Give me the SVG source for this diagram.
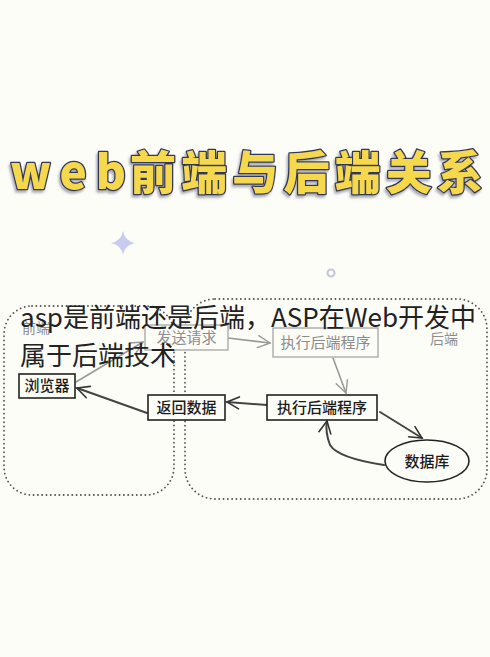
<svg xmlns="http://www.w3.org/2000/svg" width="490" height="657" viewBox="0 0 490 657">
<defs>
<style>
.bg{fill:#fdfdf8}
.title{font-family:"Noto Sans CJK SC","Liberation Sans",sans-serif;font-weight:900;font-size:46px;fill:#f5d84c;stroke:#33385a;stroke-width:2.5;paint-order:stroke;stroke-linejoin:round}
.region{fill:none;stroke:#555;stroke-width:1.8;stroke-dasharray:0.1 4.2;stroke-linecap:round}
.box{fill:#fdfdf8;stroke:#222;stroke-width:1.6}
.gbox{fill:#fdfdf8;stroke:#aaa;stroke-width:1.4}
.lbl{font-family:"Noto Sans CJK SC","Liberation Sans",sans-serif;font-size:15px;font-weight:500;fill:#1a1a1a;text-anchor:middle}
.glbl{font-family:"Noto Sans CJK SC","Liberation Sans",sans-serif;font-size:15px;fill:#8c8c8c;text-anchor:middle}
.area{font-family:"Noto Sans CJK SC","Liberation Sans",sans-serif;font-size:14px;fill:#8c8c8c}
.con{fill:none;stroke:#444;stroke-width:2;stroke-linecap:round}
.gcon{fill:none;stroke:#999;stroke-width:1.6;stroke-linecap:round}
.over{font-family:"Noto Sans CJK SC","Liberation Sans",sans-serif;font-size:26px;fill:#222}
</style>
<filter id="tshadow" x="-5%" y="-20%" width="110%" height="150%">
<feDropShadow dx="-1.5" dy="2.5" stdDeviation="1" flood-color="#6a6a80" flood-opacity="0.55"/>
</filter>
<marker id="arr" viewBox="0 0 16 16" refX="14" refY="8" markerWidth="16" markerHeight="16" markerUnits="userSpaceOnUse" orient="auto">
<path d="M2 2 L14 8 L2 14" fill="none" stroke="#333" stroke-width="1.6" stroke-linecap="round"/>
</marker>
<marker id="garr" viewBox="0 0 16 16" refX="14" refY="8" markerWidth="16" markerHeight="16" markerUnits="userSpaceOnUse" orient="auto">
<path d="M2 2 L14 8 L2 14" fill="none" stroke="#999" stroke-width="1.4" stroke-linecap="round"/>
</marker>
</defs>
<rect class="bg" x="0" y="0" width="490" height="657"/>

<g id="title" filter="url(#tshadow)">
<text class="title" x="10" y="189" textLength="116" lengthAdjust="spacing">web</text>
<text class="title" x="130" y="189" textLength="353" lengthAdjust="spacing">前端与后端关系</text>
</g>

<g id="decor">
<path d="M123 231 Q125 241 135 243 Q125 245 123 255 Q121 245 111 243 Q121 241 123 231 Z" fill="#c6cdf0"/>
<circle cx="331" cy="273" r="3.5" fill="none" stroke="#c4c8dc" stroke-width="2.2"/>
</g>

<g id="regions">
<rect class="region" x="4" y="306" width="170" height="189" rx="28"/>
<rect class="region" x="185" y="299" width="302" height="200" rx="30"/>
<text class="area" x="22" y="333" font-size="13">前端</text>
<text class="area" x="430" y="344">后端</text>
</g>

<g id="connectors">
<path class="gcon" d="M76 382 L143 342" marker-end="url(#garr)"/>
<path class="gcon" d="M228 338 L270 343" marker-end="url(#garr)"/>
<path class="gcon" d="M333 358 L346 393" marker-end="url(#garr)"/>
<path class="con" d="M267 405 L227 402" marker-end="url(#arr)"/>
<path class="con" d="M147 413 L77 388" marker-end="url(#arr)"/>
<path class="con" d="M380 412 L422 438" marker-end="url(#arr)"/>
<path class="con" d="M384 465 Q338 458 330 445 Q325 432 327 421" marker-end="url(#arr)"/>
</g>

<g id="node-send">
<rect class="gbox" x="145" y="325" width="83" height="25"/>
<text class="glbl" x="186.5" y="343">发送请求</text>
</g>
<g id="node-exec-top">
<rect class="gbox" x="273" y="328" width="105" height="29"/>
<text class="glbl" x="325.5" y="348">执行后端程序</text>
</g>
<g id="node-browser">
<rect class="box" x="19" y="374" width="56" height="24"/>
<text class="lbl" x="47" y="391">浏览器</text>
</g>
<g id="node-return">
<rect class="box" x="148" y="395" width="77" height="25"/>
<text class="lbl" x="186.5" y="413">返回数据</text>
</g>
<g id="node-exec">
<rect class="box" x="267" y="395" width="110" height="25"/>
<text class="lbl" x="322" y="413">执行后端程序</text>
</g>
<g id="node-db">
<ellipse class="box" cx="427" cy="461" rx="42" ry="21"/>
<text class="lbl" x="427" y="467">数据库</text>
</g>

<g id="overlay">
<text class="over" x="20" y="327">asp是前端还是后端，ASP在Web开发中</text>
<text class="over" x="20" y="365">属于后端技术</text>
</g>
</svg>
